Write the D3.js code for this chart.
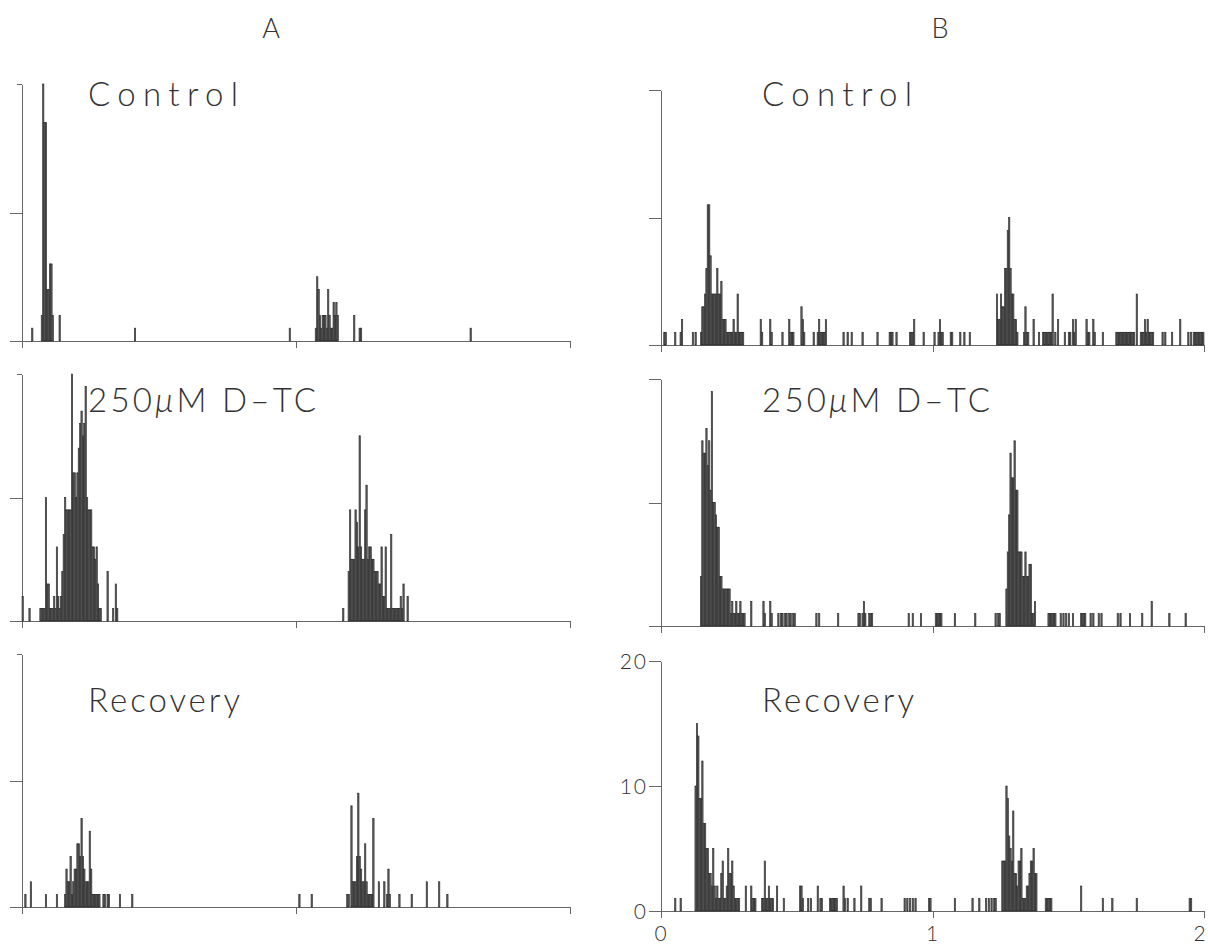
<!DOCTYPE html>
<html>
<head>
<meta charset="utf-8">
<script src="https://cdn.jsdelivr.net/npm/d3@7/dist/d3.min.js"></script>
<style>
    body { margin: 0; background: #fff; }
    .axis path, .axis line { stroke: #666; stroke-width: 1px; shape-rendering: crispEdges; }
    .axis text { font-family: Lato, "Open Sans", sans-serif; font-weight: 300; font-size: 21px; letter-spacing: 2px; fill: #333; }
    .col-label, .panel-title { font-family: Lato, "Open Sans", sans-serif; font-weight: 300; fill: #333; }
    .bar { fill: #5e5e5e; stroke: #2a2a2a; stroke-width: 0.6px; }
</style>
</head>
<body>
<div id="chart"></div>
<script>
// bins are 0.005 units wide; each entry is [bin index, count]
const binWidth = 0.005;
const xTicks = [0, 1, 2];
const yTicks = [0, 10, 20];
const columnLabels = ["A", "B"];
const panelTitles = ["Control", "250\u00b5M D\u2013TC", "Recovery"];

const controlA = [[7,1],[14,2],[15,20],[16,17],[17,17],[18,4],[19,4],[20,6],[21,6],[22,2],[27,2],[82,1],
    [195,1],[214,1],[215,5],[216,4],[217,2],[218,1],[219,2],[220,2],[221,2],[222,1],[223,4],[224,2],[225,1],
    [226,1],[227,3],[228,2],[229,3],[230,2],[242,2],[246,1],[247,1],[327,1]];

const dtcA = [[0,2],[5,1],[13,1],[14,1],[15,1],[16,1],[17,10],[18,3],[19,3],[20,1],[21,1],[22,1],[23,2],[24,1],
    [25,6],[26,2],[27,1],[28,2],[29,4],[30,7],[31,10],[32,9],[33,9],[34,9],[35,9],[36,20],[37,12],[38,12],[39,10],
    [40,12],[41,14],[42,16],[43,17],[44,15],[45,16],[46,19],[47,10],[48,9],[49,9],[50,9],[51,6],[52,6],[53,5],
    [54,6],[55,3],[56,1],[57,1],[62,4],[66,1],[68,3],[69,1],
    [234,1],[238,4],[239,9],[240,5],[241,5],[242,5],[243,9],[244,8],[245,6],[246,15],[247,6],[248,5],[249,5],
    [250,9],[251,11],[252,5],[253,6],[254,6],[255,5],[256,5],[257,4],[258,4],[259,4],[260,3],[261,3],[262,6],
    [263,2],[264,2],[265,6],[266,1],[267,1],[268,1],[269,7],[270,1],[271,1],[272,1],[273,1],[274,1],[275,1],
    [276,2],[277,1],[278,3],[281,2]];

const recoveryA = [[2,1],[6,2],[17,1],[25,1],[31,1],[32,3],[33,2],[34,2],[35,4],[36,1],[37,2],[38,3],[39,3],
    [40,5],[41,5],[42,4],[43,7],[44,4],[45,3],[46,2],[47,2],[48,2],[49,6],[50,3],[51,1],[52,1],[53,1],[54,1],
    [55,1],[56,1],[59,1],[60,1],[62,1],[63,1],[71,1],[80,1],
    [202,1],[211,1],[237,1],[238,1],[240,8],[241,2],[242,2],[243,2],[244,4],[245,9],[246,4],[247,3],[248,2],
    [249,2],[250,5],[251,2],[252,1],[253,1],[254,1],[255,1],[256,7],[260,2],[264,2],[266,1],[267,3],[268,1],
    [275,1],[284,1],[295,2],[304,2],[310,1]];

const controlB = [[2,1],[3,1],[10,1],[14,1],[15,2],[23,1],[25,1],[29,1],[30,3],[31,3],[32,4],[33,6],[34,11],
    [35,11],[36,7],[37,4],[38,4],[39,4],[40,4],[41,6],[42,4],[43,4],[44,5],[45,2],[46,2],[47,2],[48,1],[49,1],
    [50,1],[51,1],[52,1],[53,2],[54,1],[55,1],[56,4],[57,1],[58,1],[59,1],[60,1],[73,2],[74,1],[80,2],[81,1],
    [89,1],[94,2],[95,1],[96,1],[97,1],[103,3],[104,2],[105,1],[112,1],[115,1],[116,2],[117,1],[118,1],[119,1],
    [120,1],[121,2],[134,1],[137,1],[140,1],[148,1],[159,1],[168,1],[169,1],[170,1],[173,1],[183,1],[184,1],
    [185,1],[186,2],[193,1],[201,1],[204,1],[205,2],[206,1],[207,1],[213,1],[214,1],[220,1],[223,1],[227,1],
    [247,4],[248,2],[249,2],[250,4],[251,3],[252,3],[253,6],[254,6],[255,9],[256,10],[257,6],[258,4],[259,4],
    [260,2],[261,2],[262,1],[267,1],[268,3],[269,1],[270,1],[274,2],[278,1],[281,1],[282,1],[283,1],[284,1],
    [285,1],[286,1],[287,1],[288,4],[290,1],[292,2],[297,1],[300,1],[301,1],[303,2],[304,1],[305,2],[313,2],
    [314,1],[315,1],[318,2],[319,1],[325,1],[335,1],[336,1],[337,1],[338,1],[339,1],[340,1],[341,1],[342,1],
    [343,1],[344,1],[345,1],[346,1],[347,1],[348,1],[350,4],[353,1],[354,1],[355,1],[356,2],[357,1],[358,2],
    [359,1],[360,1],[361,1],[362,1],[369,1],[371,1],[376,1],[382,2],[388,1],[390,1],[392,1],[393,1],[394,1],
    [395,1],[396,1],[397,1],[398,1],[399,1]];

const dtcB = [[29,4],[30,15],[31,14],[32,14],[33,16],[34,13],[35,15],[36,11],[37,19],[38,10],[39,10],[40,9],
    [41,8],[42,8],[43,4],[44,4],[45,3],[46,3],[47,3],[48,3],[49,3],[50,3],[51,1],[52,2],[53,1],[54,1],[55,2],
    [56,1],[57,1],[58,2],[59,1],[60,1],[61,1],[66,2],[75,2],[76,1],[80,2],[81,1],[86,1],[88,1],[89,1],[91,1],
    [92,1],[94,1],[95,1],[97,1],[98,1],[114,1],[116,1],[130,1],[145,1],[146,1],[148,1],[149,2],[150,1],[153,1],
    [154,1],[155,1],[182,1],[185,1],[191,1],[202,1],[203,1],[204,1],[205,1],[206,1],[216,1],[231,1],[246,1],
    [248,1],[249,1],
    [254,3],[255,6],[256,9],[257,14],[258,12],[259,12],[260,15],[261,11],[262,11],[263,6],[264,6],[265,6],
    [266,4],[267,4],[268,6],[269,4],[270,4],[271,5],[272,5],[273,1],[274,1],[275,2],[285,1],[286,1],[287,1],
    [288,1],[289,1],[290,1],[294,1],[296,1],[298,1],[300,1],[303,1],[309,1],[310,1],[311,1],[312,1],[316,1],
    [318,1],[322,1],[324,1],[336,1],[338,1],[345,1],[354,1],[361,2],[374,1],[386,1]];

const recoveryB = [[10,1],[14,1],[25,10],[26,15],[27,14],[28,9],[29,9],[30,12],[31,7],[32,7],[33,5],[34,5],
    [35,3],[36,3],[37,2],[38,5],[39,2],[40,1],[41,2],[42,1],[43,1],[44,3],[45,4],[46,1],[47,1],[48,2],[49,5],
    [50,3],[51,3],[52,4],[53,2],[54,1],[55,1],[56,1],[57,1],[62,2],[66,2],[67,1],[68,1],[69,1],[74,1],[75,1],
    [76,4],[77,1],[78,1],[79,2],[80,1],[81,1],[82,1],[85,2],[90,1],[102,2],[103,2],[104,1],[108,1],[110,1],
    [115,2],[117,1],[118,1],[124,1],[125,1],[126,1],[127,1],[128,1],[129,1],[134,2],[135,1],[137,1],[142,1],
    [147,2],[153,1],[154,1],[162,1],[179,1],[181,1],[183,1],[185,1],[187,1],[197,1],[198,1],[216,1],[229,1],
    [234,1],[239,1],[241,1],[243,1],[245,1],[246,1],
    [251,4],[252,4],[253,4],[254,10],[255,9],[256,6],[257,5],[258,4],[259,8],[260,3],[261,3],[262,2],[263,4],
    [264,4],[265,5],[266,1],[267,1],[268,1],[269,2],[270,2],[271,3],[272,4],[273,4],[274,5],[275,3],[276,3],
    [283,1],[284,1],[285,1],[286,1],[287,1],[309,2],[325,1],[332,1],[350,1],[389,1],[390,1]];

class HistPanel {
    constructor(svg, data, cfg) {
        this.svg = svg;
        this.data = data;
        this.cfg = cfg;
        this.initVis();
    }

    initVis() {
        const vis = this;
        const c = vis.cfg;

        vis.x = d3.scaleLinear().domain([0, 2]).range([c.left, c.right]);
        vis.y = d3.scaleLinear().domain([0, 20]).range([c.base, c.top]);

        vis.g = vis.svg.append("g").attr("class", "panel");

        const yAxis = d3.axisLeft(vis.y)
            .tickValues(yTicks)
            .tickSize(12)
            .tickSizeOuter(0)
            .tickFormat(c.yLabels ? d3.format("d") : "");

        const yg = vis.g.append("g")
            .attr("class", "y-axis axis")
            .attr("transform", `translate(${c.left}, 0)`)
            .call(yAxis);
        yg.selectAll("text").attr("dx", "2px").attr("dy", "0.36em");
        if (c.shortTop) {
            yg.selectAll(".tick").filter(d => d === 20).select("line").attr("x2", -5);
        }

        const xAxis = d3.axisBottom(vis.x)
            .tickValues(xTicks)
            .tickSize(7)
            .tickSizeOuter(0)
            .tickFormat(c.xLabels ? d3.format("d") : "");

        const xg = vis.g.append("g")
            .attr("class", "x-axis axis")
            .attr("transform", `translate(0, ${c.base})`)
            .call(xAxis);
        xg.selectAll("text").attr("dy", "0.95em");
        // last label sits on the right edge, as in the scan
        xg.selectAll(".tick").filter(d => d === 2).select("text").attr("dx", "-4px");

        const bw = vis.x(binWidth) - vis.x(0);

        vis.g.selectAll(".bar")
            .data(vis.data)
            .enter()
            .append("rect")
            .attr("class", "bar")
            .attr("x", d => vis.x(d[0] * binWidth))
            .attr("y", d => vis.y(d[1]))
            .attr("width", bw)
            .attr("height", d => vis.y(0) - vis.y(d[1]));

        const title = vis.g.append("text")
            .attr("class", "panel-title")
            .attr("x", c.titleX)
            .attr("y", c.titleY)
            .attr("font-size", "33px")
            .attr("textLength", c.titleW)
            .attr("lengthAdjust", "spacing");

        if (c.title.includes("\u00b5")) {
            const parts = c.title.split("\u00b5");
            title.append("tspan").text(parts[0]);
            title.append("tspan").attr("font-style", "italic").text("\u03bc");
            title.append("tspan").text(parts[1]);
        } else {
            title.text(c.title);
        }
    }
}

const svg = d3.select("#chart")
    .append("svg")
    .attr("width", 1208)
    .attr("height", 946);

const columns = [
    { left: 22, right: 570, labelX: 271, titleX: 88, shortTop: true,
      rows: [{ base: 341, top: 84 }, { base: 621, top: 374 }, { base: 907, top: 654 }],
      series: [controlA, dtcA, recoveryA] },
    { left: 661, right: 1204, labelX: 940, titleX: 762, shortTop: false,
      rows: [{ base: 345, top: 90 }, { base: 626, top: 379 }, { base: 911, top: 661 }],
      series: [controlB, dtcB, recoveryB] }
];
const titleYs = [106, 412, 712];
const titleWs = [150, 228, 152];

columns.forEach((col, ci) => {
    svg.append("text")
        .attr("class", "col-label")
        .attr("x", col.labelX)
        .attr("y", 38)
        .attr("text-anchor", "middle")
        .attr("font-size", "27px")
        .text(columnLabels[ci]);

    col.rows.forEach((row, ri) => {
        new HistPanel(svg, col.series[ri], {
            left: col.left, right: col.right, base: row.base, top: row.top,
            shortTop: col.shortTop,
            title: panelTitles[ri], titleX: col.titleX, titleY: titleYs[ri], titleW: titleWs[ri],
            yLabels: ci === 1 && ri === 2,
            xLabels: ci === 1 && ri === 2
        });
    });
});
</script>
</body>
</html>
